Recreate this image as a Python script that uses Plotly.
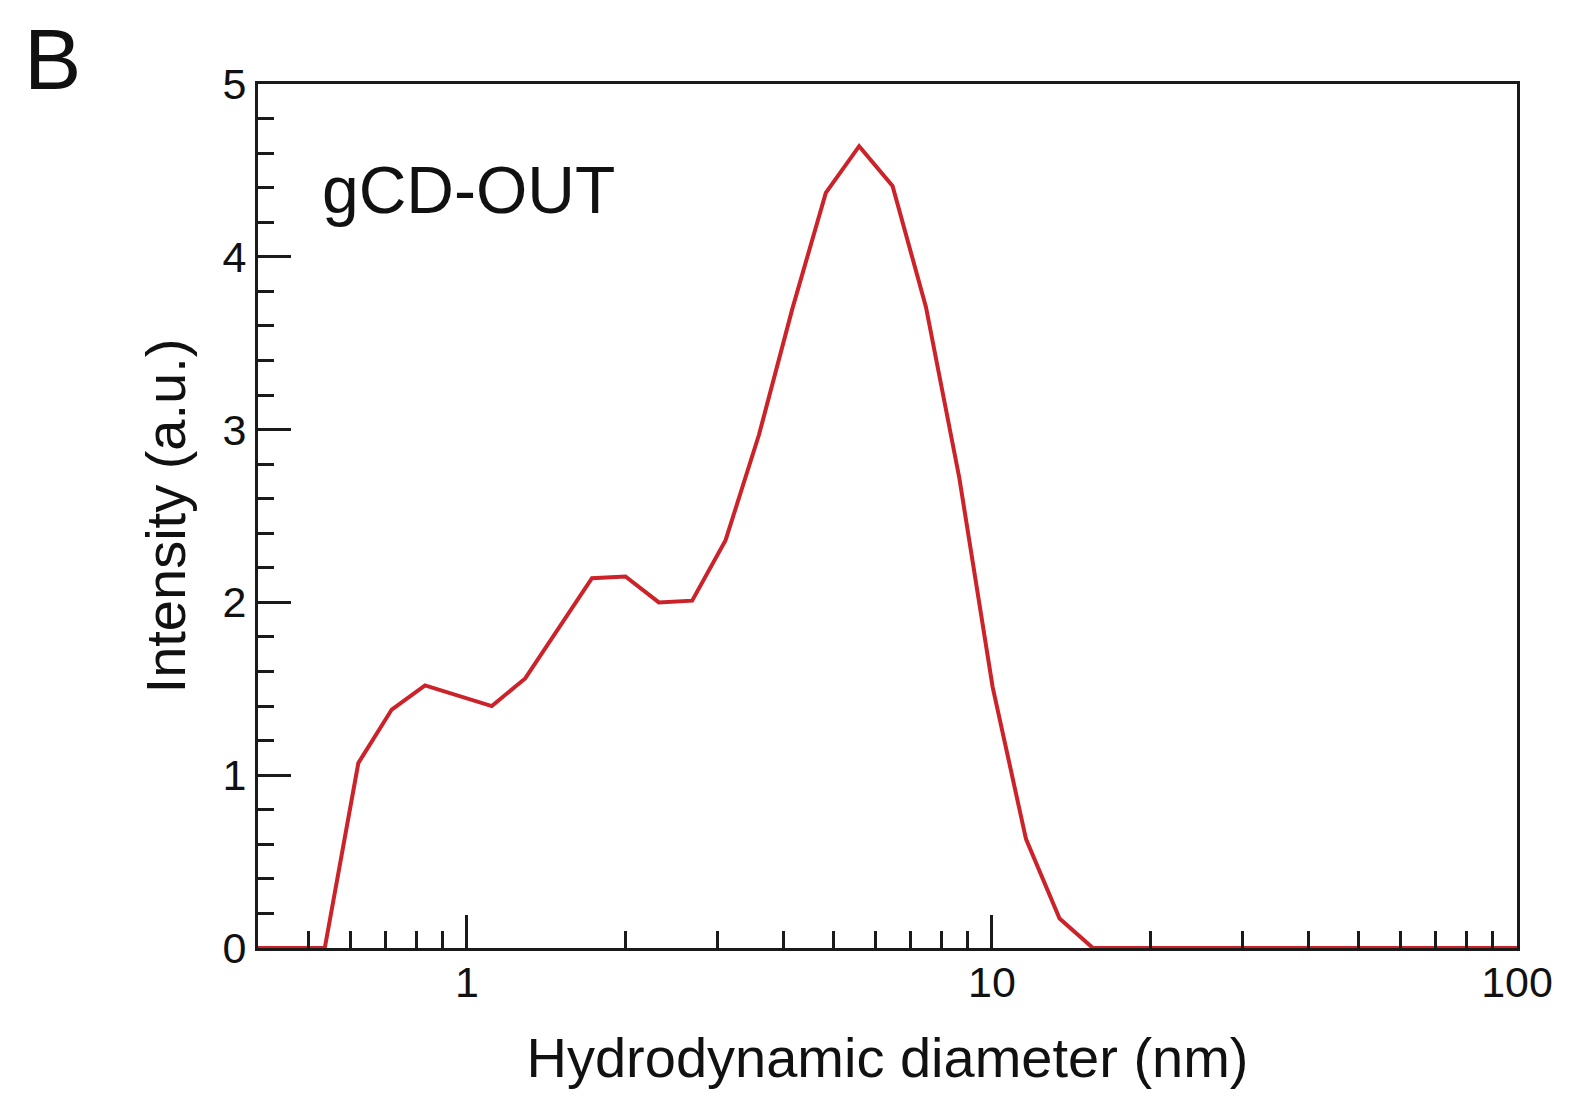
import plotly.graph_objects as go

# Size distribution (intensity vs hydrodynamic diameter, log-spaced bins)
diameter_nm = [0.400, 0.463, 0.536, 0.621, 0.719, 0.832, 0.963, 1.115, 1.291, 1.495,
               1.730, 2.004, 2.320, 2.685, 3.109, 3.599, 4.167, 4.825, 5.585, 6.466,
               7.485, 8.666, 10.03, 11.61, 13.45, 15.57, 18.02, 20.87, 24.15, 27.96,
               32.37, 37.48, 43.39, 50.23, 58.15, 67.32, 77.95, 90.24, 104.5]
intensity = [0, 0, 0, 1.07, 1.38, 1.52, 1.46, 1.40, 1.56, 1.85,
             2.14, 2.15, 2.00, 2.01, 2.36, 2.97, 3.70, 4.37, 4.64, 4.41,
             3.71, 2.72, 1.51, 0.63, 0.17, 0, 0, 0, 0, 0,
             0, 0, 0, 0, 0, 0, 0, 0, 0]

x_major = [1, 10, 100]
x_major_labels = ["1", "10", "100"]
x_minor = [0.5, 0.6, 0.7, 0.8, 0.9, 2, 3, 4, 5, 6, 7, 8, 9,
           20, 30, 40, 50, 60, 70, 80, 90]

FONT = "Liberation Sans, Arial, sans-serif"
AXIS_COLOR = "#1a1a1a"
TEXT_COLOR = "#111111"

fig = go.Figure()
fig.add_trace(go.Scatter(
    x=diameter_nm, y=intensity, mode="lines",
    line=dict(color="#cc2229", width=4),
    showlegend=False,
))

fig.update_layout(
    width=1591, height=1099,
    margin=dict(l=258, r=74, t=84, b=151),
    paper_bgcolor="white", plot_bgcolor="white",
    font=dict(family=FONT, color=TEXT_COLOR),
)

fig.update_xaxes(
    type="log", range=[-0.398, 2.0],
    showgrid=False, zeroline=False,
    showline=True, linecolor=AXIS_COLOR, linewidth=3, mirror=True,
    tickmode="array", tickvals=x_major, ticktext=x_major_labels,
    ticks="inside", ticklen=33, tickwidth=2.5, tickcolor=AXIS_COLOR,
    tickfont=dict(size=43, family=FONT, color=TEXT_COLOR),
    ticklabelstandoff=-6,
    minor=dict(tickmode="array", tickvals=x_minor, ticks="inside",
               ticklen=17, tickwidth=2.5, tickcolor=AXIS_COLOR, showgrid=False),
    title=dict(text="Hydrodynamic diameter (nm)", font=dict(size=56, family=FONT, color=TEXT_COLOR),
               standoff=34),
)

fig.update_yaxes(
    range=[0, 5],
    showgrid=False, zeroline=False,
    showline=True, linecolor=AXIS_COLOR, linewidth=3, mirror=True,
    tickmode="linear", tick0=0, dtick=1,
    ticks="inside", ticklen=33, tickwidth=2.5, tickcolor=AXIS_COLOR,
    tickfont=dict(size=43, family=FONT, color=TEXT_COLOR),
    ticklabelstandoff=0,
    minor=dict(dtick=0.2, ticks="inside", ticklen=16, tickwidth=2.5,
               tickcolor=AXIS_COLOR, showgrid=False),
    title=dict(text="Intensity (a.u.)", font=dict(size=56, family=FONT, color=TEXT_COLOR),
               standoff=19),
)

# Panel letter and sample label
fig.add_annotation(
    text="B", xref="paper", yref="paper",
    x=(22 - 258) / 1259, y=(948 - 59) / 864,
    xanchor="left", yanchor="middle", showarrow=False,
    font=dict(size=86, family=FONT, color=TEXT_COLOR),
)
fig.add_annotation(
    text="gCD-OUT", xref="paper", yref="paper",
    x=(320 - 258) / 1259, y=(948 - 190) / 864,
    xanchor="left", yanchor="middle", showarrow=False,
    font=dict(size=66, family=FONT, color=TEXT_COLOR),
)

fig.write_html("out.html")
